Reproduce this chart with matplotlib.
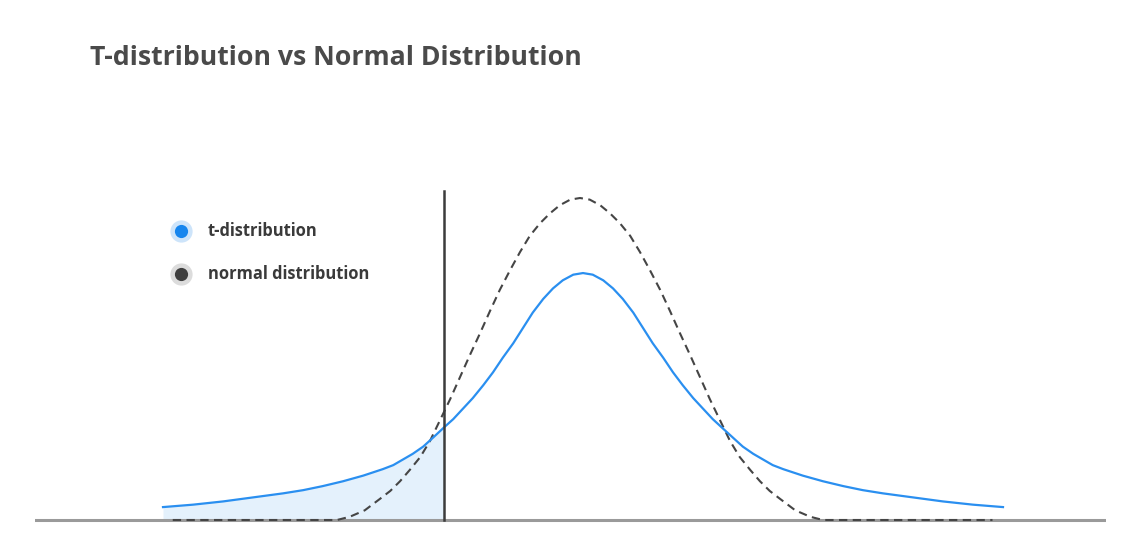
import numpy as np
import matplotlib
matplotlib.use("Agg")
import matplotlib.pyplot as plt

plt.rcParams['font.family'] = ['Open Sans', 'DejaVu Sans']

# values (x in t units, y as density)
t_x = [-5.56, -5.16, -4.76, -4.36, -3.96, -3.69, -3.43, -3.16, -2.89, -2.63,
       -2.49, -2.36, -2.23, -2.09, -1.96, -1.81, -1.69, -1.56, -1.43, -1.29,
       -1.16, -1.03, -0.89, -0.76, -0.63, -0.49, -0.36, -0.23, -0.09, 0.04,
       0.17, 0.31, 0.44, 0.57, 0.71, 0.84, 0.97, 1.11, 1.24, 1.37,
       1.51, 1.64, 1.77, 1.91, 2.04, 2.17, 2.31, 2.44, 2.57, 2.71,
       2.97, 3.24, 3.51, 3.77, 4.04, 4.44, 4.84, 5.24, 5.64]
t_y = [0.016, 0.019, 0.023, 0.028, 0.033, 0.037, 0.042, 0.048, 0.055, 0.063,
       0.068, 0.075, 0.082, 0.091, 0.102, 0.115, 0.125, 0.138, 0.151, 0.167,
       0.183, 0.201, 0.219, 0.238, 0.257, 0.274, 0.287, 0.297, 0.304, 0.306,
       0.304, 0.297, 0.287, 0.274, 0.257, 0.238, 0.219, 0.201, 0.183, 0.167,
       0.151, 0.138, 0.125, 0.113, 0.102, 0.091, 0.082, 0.075, 0.068, 0.063,
       0.055, 0.048, 0.042, 0.037, 0.033, 0.028, 0.023, 0.019, 0.016]

norm_x = [-5.43, -3.24, -3.07, -2.87, -2.67, -2.53, -2.40, -2.27, -2.13, -2.00,
          -1.87, -1.73, -1.60, -1.47, -1.33, -1.20, -1.07, -0.93, -0.80, -0.67,
          -0.53, -0.40, -0.27, -0.13, 0.00,
          0.13, 0.27, 0.40, 0.53, 0.67, 0.80, 0.93, 1.07, 1.20, 1.33,
          1.47, 1.60, 1.73, 1.87, 2.00, 2.13, 2.27, 2.40, 2.53, 2.67,
          2.87, 3.07, 3.24, 5.50]
norm_y = [0.000, 0.000, 0.004, 0.012, 0.026, 0.036, 0.048, 0.062, 0.078, 0.098,
          0.123, 0.150, 0.177, 0.204, 0.232, 0.259, 0.285, 0.310, 0.332, 0.352,
          0.368, 0.380, 0.390, 0.397, 0.399,
          0.397, 0.390, 0.380, 0.368, 0.352, 0.332, 0.310, 0.285, 0.259, 0.232,
          0.204, 0.177, 0.150, 0.123, 0.098, 0.078, 0.062, 0.048, 0.036, 0.026,
          0.012, 0.004, 0.000, 0.000]

cutoff = -1.81
line_top = 0.408

title = "T-distribution vs Normal Distribution"
labels = ["t-distribution", "normal distribution"]

blue = "#2a8ff0"
dark = "#454545"

W, H = 1139, 548
fig = plt.figure(figsize=(W / 100, H / 100), dpi=100)
fig.patch.set_facecolor("white")

# axes placed in pixel terms (centre of the bells ~ x=580 px, 75 px per unit)
left_px, right_px, top_px, bot_px = 35, 1106, 180, 530
ax = fig.add_axes([left_px / W, 1 - bot_px / H, (right_px - left_px) / W, (bot_px - top_px) / H])
ax.set_xlim((left_px - 580) / 75, (right_px - 580) / 75)
ax.set_ylim((520 - bot_px) / 807, (520 - top_px) / 807)
ax.axis("off")

# shaded tail left of the cut-off
tx = np.array(t_x)
ty = np.array(t_y)
mask = tx <= cutoff + 1e-9
ax.fill_between(tx[mask], 0, ty[mask], color="#e4f1fc", lw=0, zorder=1)

ax.axhline(0, color="#9a9a9a", lw=2.2, zorder=2)
ax.plot(norm_x, norm_y, color=dark, lw=1.5, ls=(0, (4, 2.6)), zorder=3)
ax.plot(t_x, t_y, color=blue, lw=1.6, zorder=4, solid_joinstyle="round")
ax.plot([cutoff, cutoff], [0, line_top], color="#3c3c3c", lw=1.8, zorder=5)

# title
fig.text(90 / W, 1 - 58 / H, title, fontsize=19.2, fontweight="bold",
         color="#4a4a4a", va="center", ha="left")

# legend drawn by hand
leg_y = [231, 274]
halo = ["#cde4fa", "#dcdcdc"]
dots = ["#1585ee", "#3f3f3f"]
for i in range(2):
    yy = 1 - leg_y[i] / H
    fig.lines.append(plt.Line2D([181 / W], [yy], transform=fig.transFigure, marker="o",
                                markersize=16, color=halo[i], markeredgewidth=0))
    fig.lines.append(plt.Line2D([181 / W], [yy], transform=fig.transFigure, marker="o",
                                markersize=9.5, color=dots[i], markeredgewidth=0))
    fig.text(208 / W, yy, labels[i], fontsize=11.9, fontweight="bold",
             color="#3a3a3a", va="center", ha="left")

fig.savefig("out.png", dpi=100, facecolor="white")
